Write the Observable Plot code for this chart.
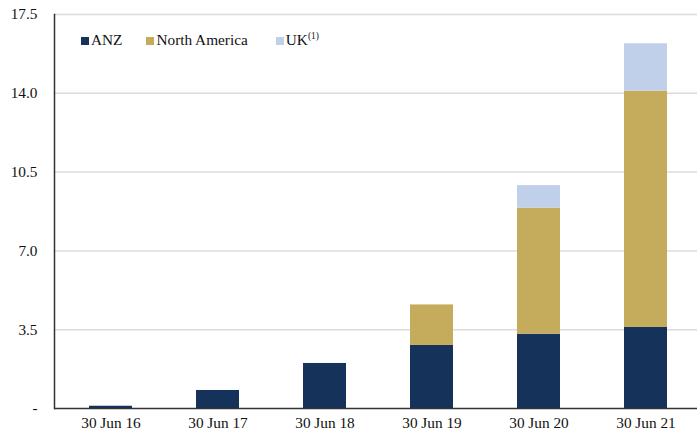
<!DOCTYPE html>
<html>
<head>
<meta charset="utf-8">
<script src="https://cdn.jsdelivr.net/npm/d3@7"></script>
<script src="https://cdn.jsdelivr.net/npm/@observablehq/plot@0.6"></script>
<style>
  html, body { margin: 0; padding: 0; background: #fff; }
  #wrap { position: relative; width: 697px; height: 434px; font-family: "Liberation Serif", "Times New Roman", serif; }
  #legend { position: absolute; left: 81px; top: 31px; display: flex; align-items: center; font-size: 15.3px; color: #111; }
  .item { display: flex; align-items: center; margin-right: 24px; }
  .item:nth-child(2) { margin-right: 28px; }
  .sw { width: 8px; height: 8px; margin-right: 2px; margin-top: 1px; }
  sup { font-size: 9.5px; vertical-align: 6px; line-height: 0; }
</style>
</head>
<body>
<div id="wrap"><div id="legend"></div></div>
<script>
// Period labels and segment values for each region
const periods = ["30 Jun 16", "30 Jun 17", "30 Jun 18", "30 Jun 19", "30 Jun 20", "30 Jun 21"];
const anz = [0.1, 0.8, 2.0, 2.8, 3.3, 3.6];
const northAmerica = [0, 0, 0, 1.8, 5.6, 10.5];
const uk = [0, 0, 0, 0, 1.0, 2.1];
const regions = ["ANZ", "North America", "UK"];
const colors = ["#14325a", "#c5ab5c", "#c0cfea"];
const yTicks = [0, 3.5, 7, 10.5, 14, 17.5];

const series = [anz, northAmerica, uk];
const rows = [];
regions.forEach((r, i) => periods.forEach((p, j) => rows.push({period: p, region: r, value: series[i][j]})));

const chart = Plot.plot({
  width: 697,
  height: 434,
  marginTop: 14,
  marginBottom: 26,
  marginLeft: 54,
  marginRight: 0,
  style: {fontFamily: "'Liberation Serif', 'Times New Roman', serif", fontSize: "15.3px", color: "#111", background: "#fff"},
  x: {domain: periods, range: [54, 701], paddingInner: 0.6, paddingOuter: 0.3, label: null},
  y: {domain: [0, 17.5], label: null},
  color: {domain: regions, range: colors},
  marks: [
    Plot.ruleY(yTicks.filter(d => d > 0), {stroke: "#dcdcdc", strokeWidth: 1.5}),
    Plot.barY(rows, Plot.stackY({order: regions}, {x: "period", y: "value", fill: "region", inset: 0})),
    Plot.axisY(yTicks, {tickSize: 0, tickPadding: 17, tickFormat: d => d === 0 ? "-" : d.toFixed(1), fontSize: 15.3}),
    Plot.axisX({tickSize: 0, tickPadding: 9, fontSize: 15.3}),
    Plot.frame({anchor: "left", stroke: "#333", strokeWidth: 1.5}),
    Plot.ruleY([0], {stroke: "#333", strokeWidth: 1.5})
  ]
});
document.getElementById("wrap").prepend(chart);

const legend = document.getElementById("legend");
regions.forEach((r, i) => {
  const item = document.createElement("div");
  item.className = "item";
  const sw = document.createElement("span");
  sw.className = "sw";
  sw.style.background = colors[i];
  const label = document.createElement("span");
  label.innerHTML = r === "UK" ? "UK<sup>(1)</sup>" : r;
  item.append(sw, label);
  legend.append(item);
});
</script>
</body>
</html>
